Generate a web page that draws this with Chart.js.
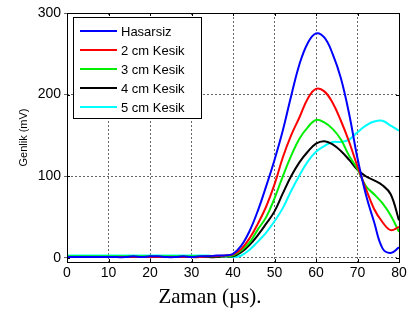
<!DOCTYPE html>
<html>
<head>
<meta charset="utf-8">
<script src="https://cdn.jsdelivr.net/npm/chart.js@4/dist/chart.umd.min.js"></script>
<style>
  html, body { margin: 0; padding: 0; background: #fff; }
  #wrap { width: 411px; height: 315px; position: relative; }
</style>
</head>
<body>
<div id="wrap"><canvas id="chart"></canvas></div>
<script>
// time axis, every 2 µs
const times = [0, 2, 4, 6, 8, 10, 12, 14, 16, 18, 20, 22, 24, 26, 28, 30, 32, 34, 36, 38,
               40, 42, 44, 46, 48, 50, 52, 54, 56, 58, 60, 62, 64, 66, 68, 70, 72, 74, 76, 78, 80];

const hasarsiz = [1, 1, 1, 1, 1, 1, 1, 1, 2, 1, 2, 2, 1, 1, 2, 1, 2, 2, 3, 3,
                  5, 15, 33, 58, 88, 120, 156, 198, 237, 263, 275, 270, 250, 220, 176, 122, 78, 44, 12, 6, 13];
const kesik2 = [1, 1, 1, 1, 1, 1, 1, 1, 1, 1, 1, 1, 1, 1, 1, 1, 1, 2, 2, 3,
                4, 11, 24, 42, 63, 90, 123, 150, 172, 195, 207, 204, 190, 168, 142, 112, 85, 60, 44, 34, 38];
const kesik3 = [2, 2, 2, 2, 2, 2, 2, 2, 2, 2, 2, 2, 2, 2, 2, 2, 2, 2, 2, 2,
                3, 9, 19, 35, 50, 73, 100, 125, 146, 160, 169, 166, 158, 145, 125, 109, 88, 78, 67, 52, 32];
const kesik4 = [1, 1, 1, 1, 1, 1, 1, 1, 1, 1, 1, 1, 1, 1, 1, 1, 1, 1, 1, 2,
                2, 7, 16, 28, 42, 57, 79, 100, 117, 130, 140, 143, 139, 131, 120, 108, 100, 95, 89, 78, 46];
const kesik5 = [3, 3, 3, 3, 3, 3, 3, 3, 3, 3, 3, 3, 3, 3, 3, 3, 3, 3, 2, 2,
                1, 3, 10, 20, 31, 45, 61, 82, 101, 118, 130, 137, 142, 142, 145, 154, 162, 167, 168, 162, 156];

const seriesNames = ['Hasarsiz', '2 cm Kesik', '3 cm Kesik', '4 cm Kesik', '5 cm Kesik'];
const seriesColors = ['#0000ff', '#ff0000', '#00ee00', '#000000', '#00ffff'];
const seriesValues = [hasarsiz, kesik2, kesik3, kesik4, kesik5];

const xTicks = [0, 10, 20, 30, 40, 50, 60, 70, 80];
const yTicks = [0, 100, 200, 300];

// box legend drawn inside the plot, top-left, plus the frame and x title
const boxLegend = {
    id: 'boxLegend',
    afterDatasetsDraw(chart) {
        const ctx = chart.ctx;
        const a = chart.chartArea;
        const x0 = a.left + 6, y0 = a.top + 4, w = 128, h = 101;
        ctx.save();
        ctx.fillStyle = '#fff';
        ctx.fillRect(x0, y0, w, h);
        ctx.strokeStyle = '#000';
        ctx.lineWidth = 1;
        ctx.strokeRect(x0 + 0.5, y0 + 0.5, w, h);
        ctx.font = '13px Arial, "Liberation Sans", sans-serif';
        ctx.textBaseline = 'middle';
        chart.data.datasets.forEach((ds, i) => {
            const y = y0 + 14 + i * 19;
            ctx.strokeStyle = ds.borderColor;
            ctx.lineWidth = 2;
            ctx.beginPath();
            ctx.moveTo(x0 + 7, y);
            ctx.lineTo(x0 + 44, y);
            ctx.stroke();
            ctx.fillStyle = '#000';
            ctx.fillText(ds.label, x0 + 48, y + 1);
        });
        ctx.restore();
    },
    afterDraw(chart) {
        const ctx = chart.ctx;
        const a = chart.chartArea;
        const xs = chart.scales.x, ys = chart.scales.y;
        ctx.save();
        // plot frame
        ctx.strokeStyle = '#000';
        ctx.lineWidth = 1;
        ctx.strokeRect(a.left + 0.5, a.top + 0.5, a.right - a.left, a.bottom - a.top);
        // small inward ticks on top and right edges
        ctx.beginPath();
        xTicks.forEach(v => {
            const px = Math.round(xs.getPixelForValue(v)) + 0.5;
            ctx.moveTo(px, a.top); ctx.lineTo(px, a.top + 3);
            ctx.moveTo(px, a.bottom); ctx.lineTo(px, a.bottom - 3);
        });
        yTicks.forEach(v => {
            const py = Math.round(ys.getPixelForValue(v)) + 0.5;
            ctx.moveTo(a.right, py); ctx.lineTo(a.right - 3, py);
            ctx.moveTo(a.left, py); ctx.lineTo(a.left + 3, py);
        });
        ctx.stroke();
        // x axis title
        ctx.fillStyle = '#000';
        ctx.font = '21px "Liberation Serif", "DejaVu Serif", serif';
        ctx.textAlign = 'center';
        ctx.textBaseline = 'middle';
        ctx.fillText('Zaman (\u00b5s).', 210, 297);
        ctx.restore();
    }
};

new Chart(document.getElementById('chart').getContext('2d'), {
    type: 'line',
    data: {
        datasets: seriesValues.map((vals, i) => ({
            label: seriesNames[i],
            data: vals.map((v, j) => ({ x: times[j], y: v })),
            borderColor: seriesColors[i],
            borderWidth: 2,
            pointRadius: 0,
            tension: 0.4,
            fill: false
        }))
    },
    options: {
        responsive: true,
        maintainAspectRatio: false,
        animation: false,
        layout: { padding: { left: 0, right: 12, top: 13, bottom: 0 } },
        plugins: {
            legend: { display: false },
            tooltip: { enabled: false }
        },
        scales: {
            x: {
                type: 'linear',
                min: 0,
                max: 80,
                afterBuildTicks: (scale) => { scale.ticks = xTicks.map(v => ({ value: v })); },
                afterFit: (scale) => { scale.height = 53; },
                ticks: {
                    color: '#000',
                    padding: 3,
                    font: { family: 'Arial, "Liberation Sans", sans-serif', size: 14 }
                },
                grid: {
                    color: '#666',
                    lineWidth: 1,
                    drawTicks: false
                },
                border: { display: false, dash: [2, 2] },
                title: { display: false }
            },
            y: {
                min: -5,
                max: 300,
                afterBuildTicks: (scale) => { scale.ticks = yTicks.map(v => ({ value: v })); },
                afterFit: (scale) => { scale.width = 67; },
                ticks: {
                    color: '#000',
                    padding: 3,
                    font: { family: 'Arial, "Liberation Sans", sans-serif', size: 14 }
                },
                grid: {
                    color: '#666',
                    lineWidth: 1,
                    drawTicks: true,
                    tickLength: 3
                },
                border: { display: false, dash: [2, 2] },
                title: {
                    display: true,
                    text: 'Genlik (mV)',
                    color: '#000',
                    padding: { top: 17, bottom: 0 },
                    font: { family: 'Arial, "Liberation Sans", sans-serif', size: 11 }
                }
            }
        }
    },
    plugins: [boxLegend]
});
</script>
</body>
</html>
